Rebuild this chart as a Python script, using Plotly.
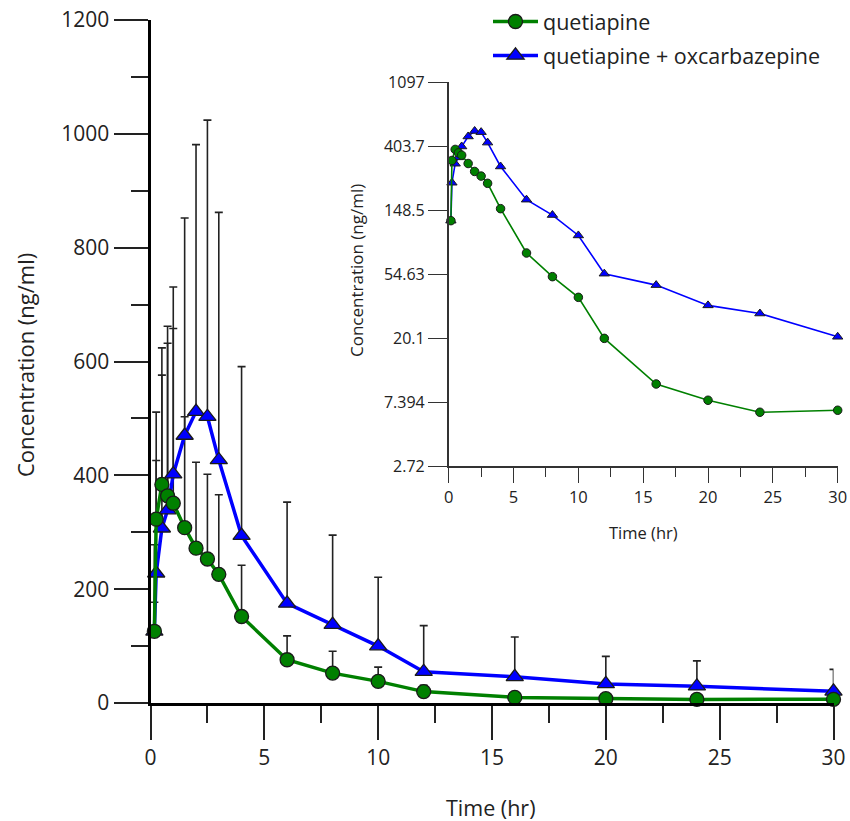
import math
import plotly.graph_objects as go

# ---------------- data ----------------
time_hr = [0.17, 0.25, 0.5, 0.75, 1, 1.5, 2, 2.5, 3, 4, 6, 8, 10, 12, 16, 20, 24, 30]

quetiapine = [126, 323, 384, 364, 351, 308, 272, 253, 226, 152, 76, 52.5, 38, 20, 9.8, 7.6, 6.3, 6.5]
quetiapine_sd = [152, 103, 192, 268, 307, 195, 151, 149, 140, 90, 42, 38.5, 25, 11, 4.2, 3.4, 1.7, 2.5]

quet_oxc = [126, 228, 307, 339, 402, 470, 512, 503, 427, 294, 175, 137.6, 100, 55, 46, 33.5, 29.5, 20.5]
quet_oxc_sd = [51, 283, 317, 323, 329, 382, 469, 521, 435, 297, 178, 157.4, 121, 81, 70, 48.5, 44.5, 38.5]

main_y_ticks = [0, 200, 400, 600, 800, 1000, 1200]
main_x_ticks = [0, 5, 10, 15, 20, 25, 30]
inset_ln_ticks = [1, 2, 3, 4, 5, 6, 7]
inset_tick_text = ["2.72", "7.394", "20.1", "54.63", "148.5", "403.7", "1097"]

GREEN = "#008000"
BLUE = "#0000FF"
EDGE = "#1a1a1a"
TXT = "#222222"
FONT = "Open Sans"

W, H = 850, 821
def px_x(p):
    return p / W
def px_y(p):
    return 1 - p / H

fig = go.Figure()

zeros = [0] * len(time_hr)

# error bars (upper only), drawn beneath the lines
for vals, sd in ((quet_oxc, quet_oxc_sd), (quetiapine, quetiapine_sd)):
    fig.add_trace(go.Scatter(
        x=time_hr, y=vals, mode="markers",
        marker=dict(size=1, opacity=0),
        error_y=dict(type="data", symmetric=False, array=sd, arrayminus=zeros,
                     color=TXT, thickness=1.6, width=4),
        showlegend=False, hoverinfo="skip", cliponaxis=False,
    ))

# main series
fig.add_trace(go.Scatter(
    x=time_hr, y=quet_oxc, mode="lines+markers", name="quetiapine + oxcarbazepine",
    line=dict(color=BLUE, width=3.5),
    marker=dict(symbol="triangle-up", size=15, color=BLUE, line=dict(color=EDGE, width=1.3)),
    cliponaxis=False, legendrank=2, legendgroup="b",
))
fig.add_trace(go.Scatter(
    x=time_hr, y=quetiapine, mode="lines+markers", name="quetiapine",
    line=dict(color=GREEN, width=3.5),
    marker=dict(symbol="circle", size=14, color=GREEN, line=dict(color=EDGE, width=1.3)),
    cliponaxis=False, legendrank=1, legendgroup="a",
))

# inset (log scale)
fig.add_trace(go.Scatter(
    x=time_hr, y=quet_oxc, mode="lines+markers", xaxis="x2", yaxis="y2",
    line=dict(color=BLUE, width=1.6),
    marker=dict(symbol="triangle-up", size=9, color=BLUE, line=dict(color=EDGE, width=1)),
    cliponaxis=False, showlegend=False,
))
fig.add_trace(go.Scatter(
    x=time_hr, y=quetiapine, mode="lines+markers", xaxis="x2", yaxis="y2",
    line=dict(color=GREEN, width=1.6),
    marker=dict(symbol="circle", size=8.5, color=GREEN, line=dict(color=EDGE, width=1)),
    cliponaxis=False, showlegend=False,
))

inset_vals = [math.exp(k) for k in inset_ln_ticks]

def title(text, x, y, size, angle=0):
    return dict(text=text, x=px_x(x), y=px_y(y), xref="paper", yref="paper",
                xanchor="center", yanchor="middle", showarrow=False, textangle=angle,
                font=dict(size=size, family=FONT, color=TXT))

fig.update_layout(
    width=W, height=H,
    margin=dict(l=0, r=0, t=0, b=0, autoexpand=False),
    paper_bgcolor="white", plot_bgcolor="white",
    font=dict(family=FONT, color=TXT),
    showlegend=True,
    legend=dict(x=px_x(488), y=px_y(1), xanchor="left", yanchor="top",
                font=dict(size=21.5, family=FONT, color=TXT),
                bgcolor="rgba(0,0,0,0)", traceorder="grouped", tracegroupgap=3,
                itemwidth=45),
    xaxis=dict(
        domain=[px_x(150.5), px_x(833.5)], range=[0, 30], anchor="y", automargin=False,
        tickvals=main_x_ticks, ticks="outside", ticklen=34, tickwidth=1.8, tickcolor=TXT,
        minor=dict(dtick=2.5, ticks="outside", ticklen=17, tickwidth=1.8, tickcolor=TXT),
        showline=True, linecolor="#000", linewidth=3, showgrid=False, zeroline=False,
        tickfont=dict(size=21, family=FONT, color=TXT),
    ),
    yaxis=dict(
        domain=[px_y(703), px_y(20)], range=[0, 1200], anchor="x", automargin=False,
        tickvals=main_y_ticks, ticks="outside", ticklen=34, tickwidth=1.8, tickcolor=TXT,
        minor=dict(dtick=100, ticks="outside", ticklen=17, tickwidth=1.8, tickcolor=TXT),
        showline=True, linecolor="#000", linewidth=3, showgrid=False, zeroline=False,
        tickfont=dict(size=21, family=FONT, color=TXT),
    ),
    xaxis2=dict(
        domain=[px_x(448.7), px_x(837.7)], range=[0, 30], anchor="y2", automargin=False,
        tickvals=main_x_ticks, ticks="outside", ticklen=15, tickwidth=1.3, tickcolor="#333",
        minor=dict(dtick=2.5, ticks="outside", ticklen=9, tickwidth=1.3, tickcolor="#333"),
        showline=True, linecolor="#333", linewidth=1.6, showgrid=False, zeroline=False,
        tickfont=dict(size=16.5, family=FONT, color=TXT),
    ),
    yaxis2=dict(
        domain=[px_y(466), px_y(82.3)], type="log", automargin=False,
        range=[math.log10(math.e), 7 * math.log10(math.e)], anchor="x2",
        tickvals=inset_vals, ticktext=inset_tick_text,
        ticks="outside", ticklen=19, tickwidth=1.3, tickcolor="#333",
        showline=True, linecolor="#333", linewidth=1.6, showgrid=False, zeroline=False,
        tickfont=dict(size=16, family=FONT, color=TXT),
    ),
    annotations=[
        title("Concentration (ng/ml)", 25, 365, 22, -90),
        title("Time (hr)", 491, 807, 21.5),
        title("Concentration (ng/ml)", 356, 271, 17, -90),
        title("Time (hr)", 643, 532, 16.5),
    ],
)

fig.write_html("out.html", config={"displayModeBar": False},
               post_script="document.body.style.margin='0';")
